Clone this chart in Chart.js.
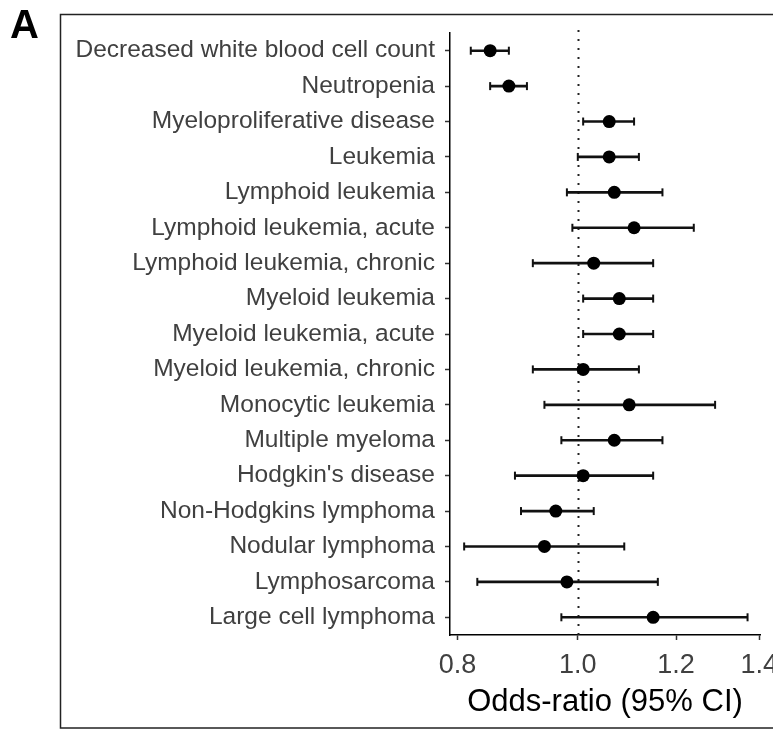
<!DOCTYPE html>
<html>
<head>
<meta charset="utf-8">
<script src="https://cdn.jsdelivr.net/npm/chart.js@4/dist/chart.umd.min.js"></script>
<style>
  html, body { margin: 0; padding: 0; background: #fff; overflow: hidden; }
  #wrap { position: absolute; left: 0; top: 0; width: 790px; height: 730px; }
</style>
</head>
<body>
<div id="wrap"><canvas id="c"></canvas></div>
<script>
const categories = [
  "Decreased white blood cell count",
  "Neutropenia",
  "Myeloproliferative disease",
  "Leukemia",
  "Lymphoid leukemia",
  "Lymphoid leukemia, acute",
  "Lymphoid leukemia, chronic",
  "Myeloid leukemia",
  "Myeloid leukemia, acute",
  "Myeloid leukemia, chronic",
  "Monocytic leukemia",
  "Multiple myeloma",
  "Hodgkin's disease",
  "Non-Hodgkins lymphoma",
  "Nodular lymphoma",
  "Lymphosarcoma",
  "Large cell lymphoma"
];
const oddsRatio = [0.85, 0.88, 1.06, 1.06, 1.07, 1.11, 1.03, 1.08, 1.08, 1.01, 1.10, 1.07, 1.01, 0.96, 0.94, 0.98, 1.15];
const ciLow     = [0.82, 0.85, 1.01, 1.00, 0.98, 0.99, 0.92, 1.01, 1.01, 0.92, 0.94, 0.97, 0.89, 0.90, 0.81, 0.83, 0.97];
const ciHigh    = [0.88, 0.91, 1.11, 1.12, 1.17, 1.24, 1.15, 1.15, 1.15, 1.12, 1.29, 1.17, 1.15, 1.03, 1.09, 1.16, 1.37];
const xTicks = [0.8, 1.0, 1.2, 1.4];
const xTitle = "Odds-ratio (95% CI)";
const panelLabel = "A";
const refLine = 1.0;

const FONT = '"Liberation Sans", Arial, Helvetica, sans-serif';

const bgPlugin = {
  id: 'bg',
  beforeDraw(chart) {
    const ctx = chart.ctx;
    ctx.save();
    ctx.fillStyle = '#fff';
    ctx.fillRect(0, 0, chart.width, chart.height);
    ctx.restore();
  },
  beforeDatasetsDraw(chart) {
    const ctx = chart.ctx;
    const xs = chart.scales.x;
    const area = chart.chartArea;
    const px = Math.round(xs.getPixelForValue(refLine)) + 0.5;
    ctx.save();
    ctx.strokeStyle = '#222';
    ctx.lineWidth = 2;
    ctx.setLineDash([2, 7]);
    ctx.beginPath();
    ctx.moveTo(px, area.top - 3);
    ctx.lineTo(px, area.bottom);
    ctx.stroke();
    ctx.restore();
  },
  afterDraw(chart) {
    const ctx = chart.ctx;
    ctx.save();
    ctx.strokeStyle = '#222';
    ctx.lineWidth = 1.5;
    ctx.strokeRect(60.5, 14.5, 800, 713.5);
    ctx.fillStyle = '#000';
    ctx.font = 'bold 40px ' + FONT;
    ctx.textBaseline = 'alphabetic';
    ctx.fillText(panelLabel, 10, 38);
    ctx.restore();
  }
};

new Chart(document.getElementById('c'), {
  type: 'bar',
  data: {
    labels: categories,
    datasets: [
      {
        type: 'line',
        label: 'OR',
        data: oddsRatio,
        showLine: false,
        pointRadius: 6.5,
        pointBackgroundColor: '#000',
        pointBorderColor: '#000',
        pointBorderWidth: 0,
        order: 0
      },
      {
        type: 'line',
        label: 'low',
        data: ciLow,
        showLine: false,
        pointStyle: 'line',
        rotation: 90,
        pointRadius: 4,
        pointBorderColor: '#111',
        pointBorderWidth: 2,
        order: 1
      },
      {
        type: 'line',
        label: 'high',
        data: ciHigh,
        showLine: false,
        pointStyle: 'line',
        rotation: 90,
        pointRadius: 4,
        pointBorderColor: '#111',
        pointBorderWidth: 2,
        order: 1
      },
      {
        type: 'bar',
        label: 'CI',
        data: categories.map((c, i) => [ciLow[i], ciHigh[i]]),
        backgroundColor: '#111',
        borderWidth: 0,
        barThickness: 2,
        order: 2
      }
    ]
  },
  options: {
    indexAxis: 'y',
    responsive: true,
    maintainAspectRatio: false,
    animation: false,
    devicePixelRatio: 1,
    layout: { padding: { left: 0, top: 33, right: 30, bottom: 0 } },
    plugins: {
      legend: { display: false },
      tooltip: { enabled: false }
    },
    scales: {
      x: {
        type: 'logarithmic',
        position: 'bottom',
        min: 0.789,
        max: 1.402,
        afterBuildTicks(scale) {
          scale.ticks = xTicks.map(v => ({ value: v }));
        },
        afterFit(scale) { scale.height = 95; },
        ticks: {
          autoSkip: false,
          maxRotation: 0,
          minRotation: 0,
          padding: 9,
          color: '#404040',
          font: { family: FONT, size: 27 },
          callback: (v) => Number(v).toFixed(1)
        },
        grid: {
          display: true,
          drawOnChartArea: false,
          drawTicks: true,
          tickLength: 5,
          tickColor: '#333',
          tickWidth: 1.5
        },
        border: { display: true, color: '#000', width: 1.5 },
        title: {
          display: true,
          text: xTitle,
          color: '#000',
          font: { family: FONT, size: 31 },
          padding: { top: 0, bottom: 9 }
        }
      },
      y: {
        type: 'category',
        position: 'left',
        offset: true,
        afterFit(scale) { scale.width = 450; },
        ticks: {
          autoSkip: false,
          padding: 10,
          color: '#404040',
          font: { family: FONT, size: 24.5 }
        },
        grid: {
          display: true,
          drawOnChartArea: false,
          drawTicks: true,
          tickLength: 5,
          tickColor: '#333',
          tickWidth: 1.5,
          offset: false
        },
        border: { display: true, color: '#000', width: 1.5 }
      }
    }
  },
  plugins: [bgPlugin]
});
</script>
</body>
</html>
